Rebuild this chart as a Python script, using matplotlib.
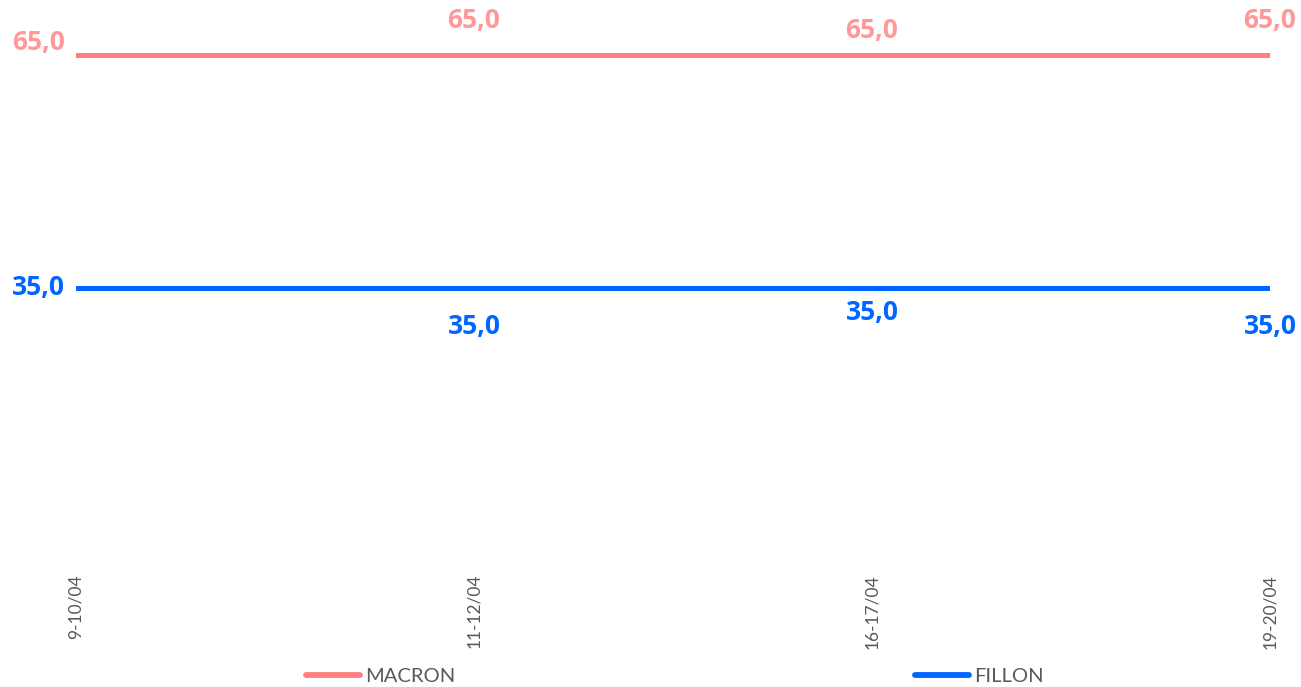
import matplotlib
matplotlib.use("Agg")
import matplotlib.pyplot as plt
from matplotlib.lines import Line2D

categories = ["9-10/04", "11-12/04", "16-17/04", "19-20/04"]
macron = [65.0, 65.0, 65.0, 65.0]
fillon = [35.0, 35.0, 35.0, 35.0]

W, H = 1301, 687
fig = plt.figure(figsize=(W / 100, H / 100), dpi=100)
ax = fig.add_axes([76 / W, (H - 560) / H, (1270 - 76) / W, 560 / H])
plt.rcParams['font.family'] = ['Lato', 'DejaVu Sans']

c_mac, c_mac_lbl = "#FF7F7F", "#FF9999"
c_fil = "#0066FF"
x = list(range(len(categories)))
ax.plot(x, macron, color=c_mac, lw=3.6, solid_capstyle="round", label="MACRON")
ax.plot(x, fillon, color=c_fil, lw=3.6, solid_capstyle="round", label="FILLON")

ax.set_xlim(0, len(categories) - 1)
ax.set_ylim(0, 72.08)
for s in ax.spines.values():
    s.set_visible(False)
ax.set_yticks([])
ax.set_xticks(x)
ax.set_xticklabels(categories, rotation=90, fontsize=12.5, color="#595959", family="Lato")
ax.tick_params(axis="x", length=0, pad=10)

lbl_font = dict(fontsize=19, fontweight="bold", family="Open Sans")
mac_off = [(-11, 13), (0, 35), (0, 25), (0, 35)]
fil_off = [(-11, 1), (0, -38), (0, -24), (0, -38)]
for i in x:
    ha = "right" if i == 0 else "center"
    ax.annotate(f"{macron[i]:.1f}".replace(".", ","), (i, macron[i]), xytext=mac_off[i],
                textcoords="offset pixels", ha=ha, va="center", color=c_mac_lbl,
                annotation_clip=False, **lbl_font)
    ax.annotate(f"{fillon[i]:.1f}".replace(".", ","), (i, fillon[i]), xytext=fil_off[i],
                textcoords="offset pixels", ha=ha, va="center", color=c_fil,
                annotation_clip=False, **lbl_font)

handles = [Line2D([], [], color=c_mac, lw=4.2, solid_capstyle="round"),
           Line2D([], [], color=c_fil, lw=4.2, solid_capstyle="round")]
leg = fig.legend(handles, ["MACRON", "FILLON"], loc="center", bbox_to_anchor=(675 / W, (H - 676) / H),
                 ncol=2, frameon=False, prop=dict(family="Lato", size=14.5),
                 handlelength=2.7, handletextpad=0.25, columnspacing=22.8,
                 borderpad=0, borderaxespad=0)
for t in leg.get_texts():
    t.set_color("#595959")

fig.savefig("out.png", dpi=100, facecolor="white")
